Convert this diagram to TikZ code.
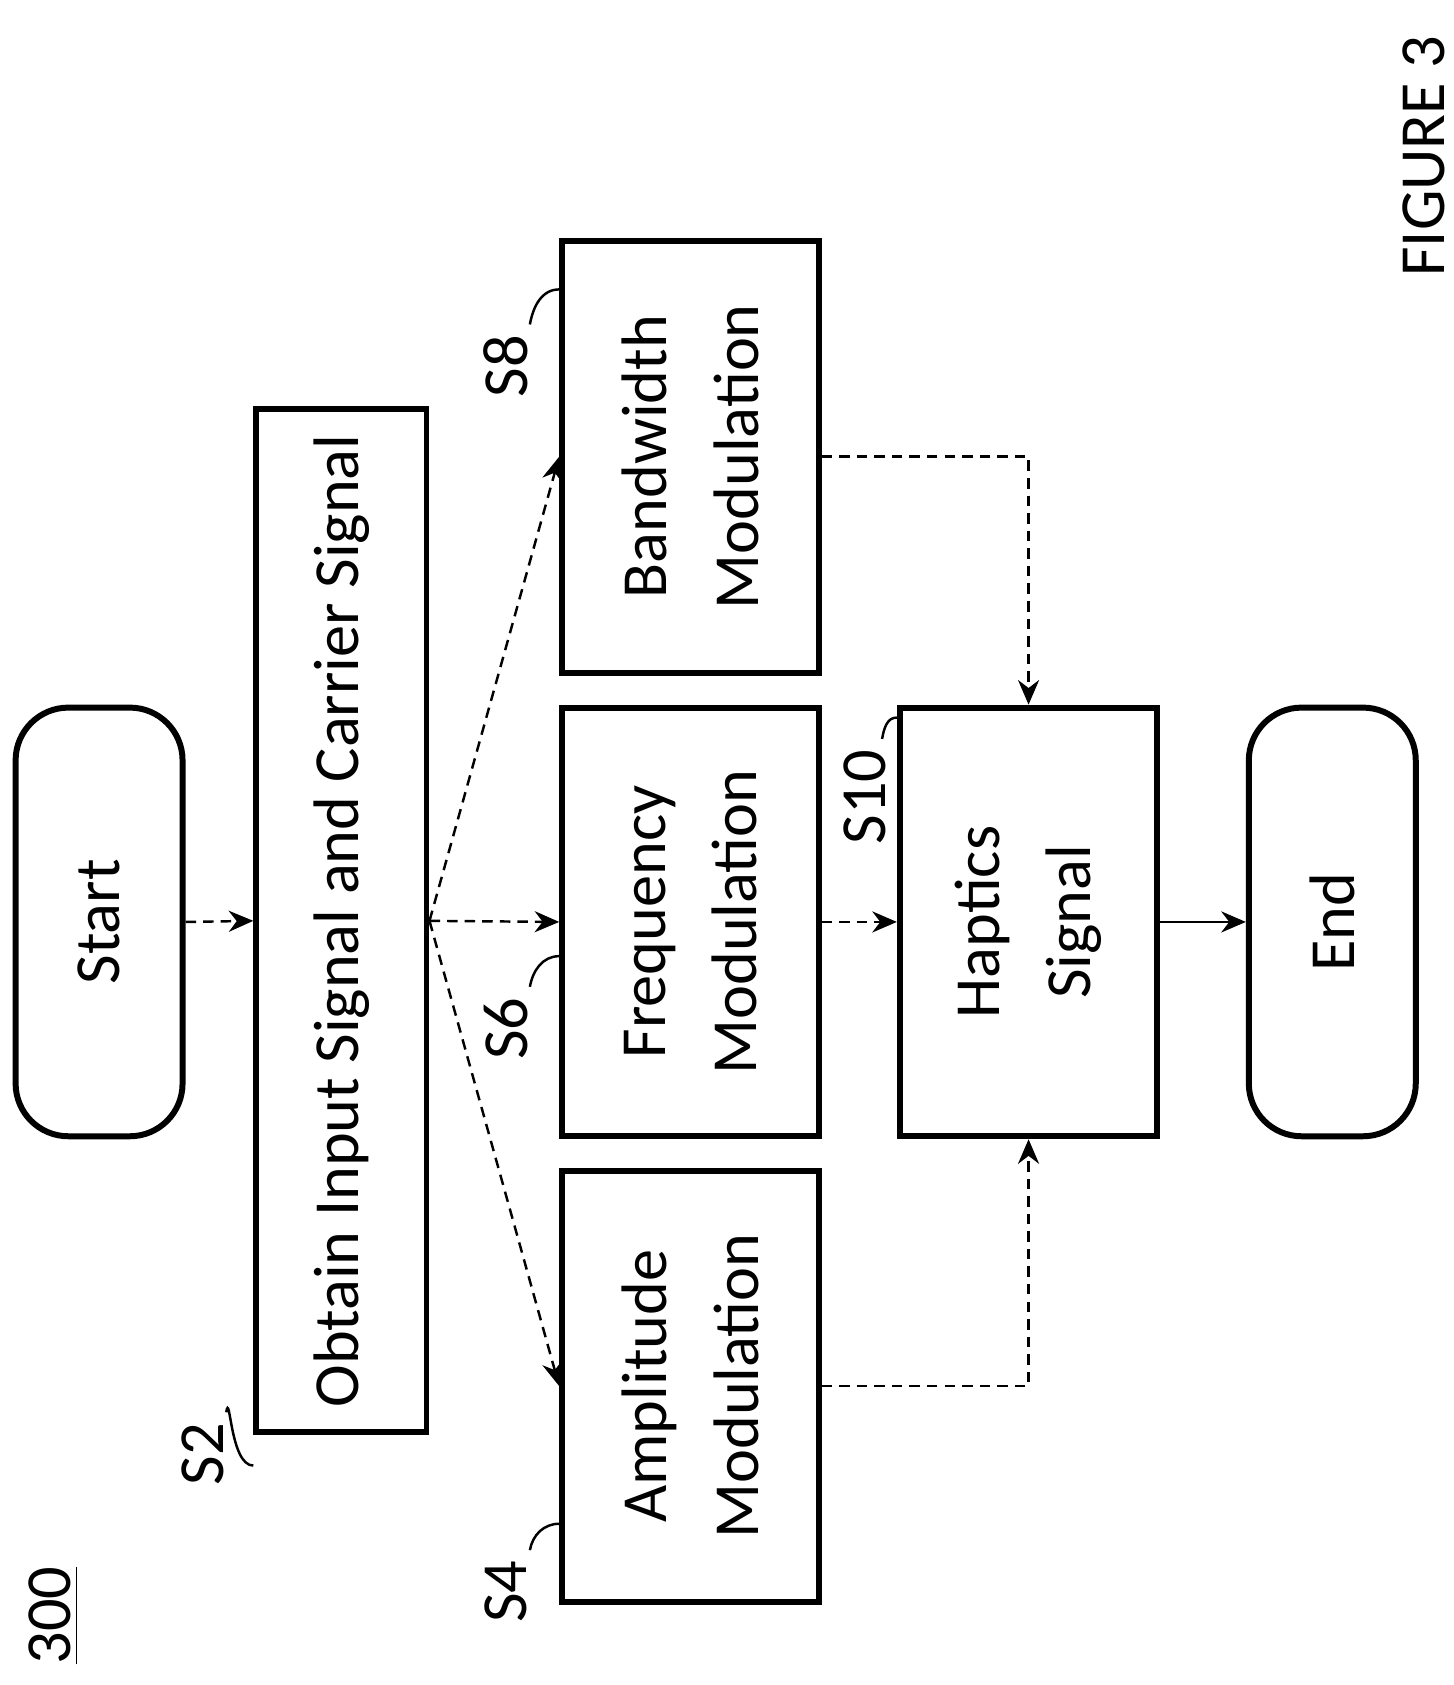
\documentclass[tikz,border=0pt]{standalone}
\usepackage{fontspec}
\setmainfont{Carlito}
\usetikzlibrary{arrows.meta}
\tikzset{
  box/.style={draw, line width=1.7pt, rotate=90, align=center, font=\fontsize{18.3}{26}\selectfont, inner sep=0pt},
  term/.style={box, rounded corners=15pt},
  flow/.style={-{Stealth[length=7pt,width=6pt]}, line width=0.7pt, densely dashed},
  lead/.style={line width=0.7pt},
  tag/.style={rotate=90, font=\fontsize{18.3}{22}\selectfont, inner sep=1pt}
}
\begin{document}
\begin{tikzpicture}[x=0.01077cm,y=0.01077cm]
  \useasboundingbox (0,0) rectangle (1350,-1564.5);

  % steps
  \node[term, minimum width=398*0.01077cm, minimum height=155*0.01077cm] (start) at (92,-856) {Start};
  \node[box, minimum width=950*0.01077cm, minimum height=158*0.01077cm] (obtain) at (317,-855) {Obtain Input Signal and Carrier Signal};
  \node[box, minimum width=401*0.01077cm, minimum height=238*0.01077cm] (bw) at (641,-424) {Bandwidth\\Modulation};
  \node[box, minimum width=398*0.01077cm, minimum height=238*0.01077cm] (freq) at (641,-856) {Frequency\\Modulation};
  \node[box, minimum width=400*0.01077cm, minimum height=238*0.01077cm] (amp) at (641,-1287) {Amplitude\\Modulation};
  \node[box, minimum width=398*0.01077cm, minimum height=239*0.01077cm] (hap) at (955,-856) {Haptics\\Signal};
  \node[term, minimum width=398*0.01077cm, minimum height=155*0.01077cm] (end) at (1237,-856) {End};

  % labels
  \node[tag] (l300) at (50,-1500) {\underline{300}};
  \node[tag] (fig) at (1322,-145) {FIGURE 3};
  \node[tag] (s2) at (188,-1350) {S2};
  \node[tag] (s4) at (470,-1478) {S4};
  \node[tag] (s6) at (470,-955) {S6};
  \node[tag] (s8) at (470,-340) {S8};
  \node[tag] (s10) at (803,-740) {S10};

  % leaders
  \draw[lead] ([shift={(22,6)}]s2.east) to[out=80,in=180] ([yshift=-28*0.01077cm]obtain.north west);
  \draw[lead] ([shift={(22,6)}]s4.east) to[out=80,in=180] ([yshift=75*0.01077cm]amp.north west);
  \draw[lead] ([shift={(22,6)}]s6.east) to[out=80,in=180] ([yshift=170*0.01077cm]freq.north west);
  \draw[lead] ([shift={(22,6)}]s8.east) to[out=80,in=180] ([yshift=-48*0.01077cm]bw.north east);
  \draw[lead] ([shift={(16,6)}]s10.east) to[out=80,in=180] ([yshift=-12*0.01077cm]hap.north east);

  % connectors
  \draw[flow] (start.south) -- (obtain.north);
  \draw[flow] (obtain.south) -- (bw.north);
  \draw[flow] (obtain.south) -- (freq.north);
  \draw[flow] (obtain.south) -- (amp.north);
  \draw[flow] (bw.south) -| (hap.east);
  \draw[flow] (amp.south) -| (hap.west);
  \draw[flow] (freq.south) -- (hap.north);
  \draw[flow, solid] (hap.south) -- (end.north);
\end{tikzpicture}
\end{document}
